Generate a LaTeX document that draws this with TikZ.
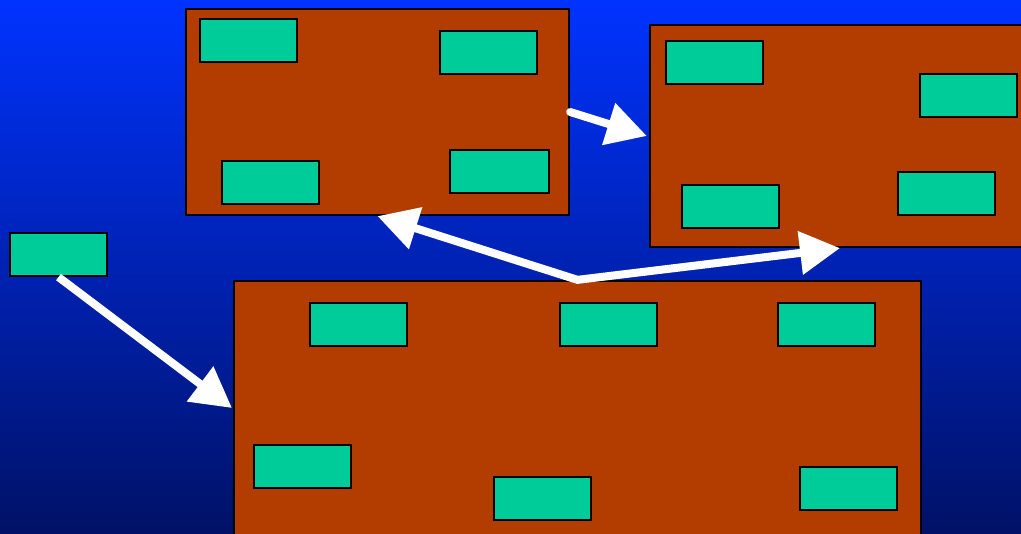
\documentclass[tikz,border=0pt]{standalone}
\usepackage{xcolor}
\usepackage{tikz}
\usetikzlibrary{arrows.meta,positioning,calc}

\definecolor{skytop}{RGB}{0,51,255}
\definecolor{skybot}{RGB}{0,17,102}
\definecolor{rust}{RGB}{179,60,0}
\definecolor{jade}{RGB}{0,204,153}

\begin{document}
\begin{tikzpicture}[
  x=0.01cm, y=-0.01cm,
  panel/.style={rectangle, draw=black, fill=rust, line width=0.6pt},
  smallbox/.style={rectangle, draw=black, fill=jade, line width=0.6pt, minimum width=0.97cm, minimum height=0.43cm},
  arrow/.style={draw=white, line width=0.08cm, -{Triangle[length=0.4cm, width=0.42cm]}}
]

\useasboundingbox (0,0) rectangle (1021,534);
\clip (0,0) rectangle (1021,534);
\shade[top color=skytop, bottom color=skybot] (0,0) rectangle (1021,534);

\node[panel, minimum width=3.83cm, minimum height=2.06cm] (topleft) at (377.5,112) {};
\node[panel, minimum width=3.8cm, minimum height=2.22cm] (topright) at (840,136) {};
\node[panel, minimum width=6.87cm, minimum height=2.9cm] (bottom) at (577.5,426) {};

\node[smallbox] (tl1) at (248.5,40.5) {};
\node[smallbox] (tl2) at (488.5,52.5) {};
\node[smallbox] (tl3) at (270.5,182.5) {};
\node[smallbox, minimum width=0.99cm] (tl4) at (499.5,171.5) {};

\node[smallbox] (tr1) at (714.5,62.5) {};
\node[smallbox] (tr2) at (968.5,95.5) {};
\node[smallbox] (tr3) at (730.5,206.5) {};
\node[smallbox] (tr4) at (946.5,193.5) {};

\node[smallbox] (single) at (58.5,254.5) {};

\node[smallbox] (b1) at (358.5,324.5) {};
\node[smallbox] (b2) at (608.5,324.5) {};
\node[smallbox] (b3) at (826.5,324.5) {};
\node[smallbox] (b4) at (302.5,466.5) {};
\node[smallbox] (b5) at (542.5,498.5) {};
\node[smallbox] (b6) at (848.5,488.5) {};

\coordinate (entry) at (232,408);

\draw[arrow, line cap=round] (topleft.east) -- ($(topright.west)+(-2,0)$);
\draw[arrow] (single.south) -- (entry);
\draw[arrow, {Triangle[length=0.4cm, width=0.42cm]}-{Triangle[length=0.4cm, width=0.42cm]}] (topleft.south) -- (bottom.north) -- (topright.south);

\end{tikzpicture}
\end{document}
